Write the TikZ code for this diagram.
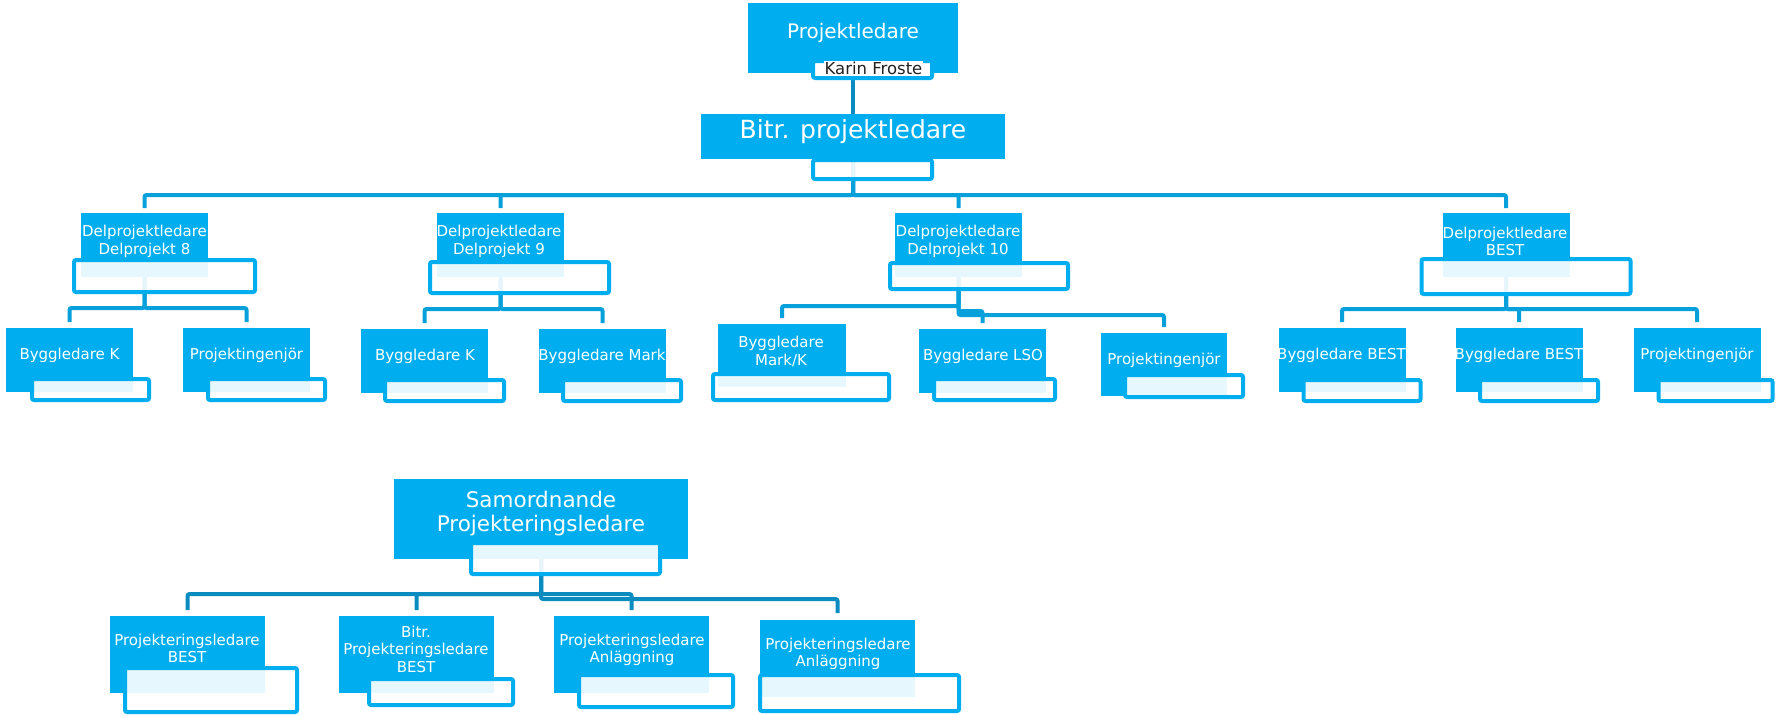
\documentclass[tikz,border=0pt]{standalone}
\usepackage{fontspec}
\setmainfont{DejaVu Sans}
\usetikzlibrary{backgrounds}
\definecolor{boxblue}{RGB}{0,174,239}
\definecolor{connA}{RGB}{8,160,218}
\definecolor{connB}{RGB}{10,140,192}
\definecolor{darktext}{RGB}{34,34,34}
\tikzset{
 bluebox/.style={fill=boxblue, inner sep=0, outer sep=0},
 namebox/.style={fill=white, fill opacity=0.9, draw=boxblue, draw opacity=1, line width=4pt, rounded corners=2pt, inner sep=0, outer sep=0},
 lbl/.style={inner sep=0, align=center, text=white, font=\fontsize{15}{17.5}\selectfont},
 conn/.style={draw=connA, line width=4pt, rounded corners=2pt},
}
\newcommand\posunit[9]{%
 \node[bluebox, minimum width=#3, minimum height=#4] (#1) at (#2) {};
 \node[lbl] (#1t) at (#5) {#6};
 \node[namebox, minimum width=#8-4, minimum height=#9-4] (#1n) at (#7) {};
}
\begin{document}
\begin{tikzpicture}[x=1pt,y=-1pt]
\useasboundingbox (0,0) rectangle (1785,715);
% top
\node[bluebox, minimum width=210, minimum height=70] (pl) at (853,38) {};
\node[lbl, font=\fontsize{20}{23}\selectfont] (plt) at (853,33) {Projektledare};
\node[namebox, fill opacity=1, minimum width=119, minimum height=17] (pln) at (872.5,69.5) {};
\node[inner sep=1pt, fill=white, text=darktext, font=\fontsize{16.5}{18}\selectfont] (plnt) at (873.5,68) {Karin Froste};
\node[bluebox, minimum width=304, minimum height=45] (bpl) at (853,136.5) {};
\node[lbl, font=\fontsize{25}{28}\selectfont] (bplt) at (853,132) {Bitr. projektledare};
\node[namebox, minimum width=119, minimum height=19] (bpln) at (872.5,169.5) {};
% delprojekt
\posunit{d8}{144.5,245}{127}{64}{144.5,241.5}{Delprojektledare\\Delprojekt 8}{164.5,276}{185}{36}
\posunit{d9}{500.5,245}{127}{64}{499,241.5}{Delprojektledare\\Delprojekt 9}{519.5,277.5}{183}{35}
\posunit{d10}{958.5,245}{127}{64}{958,241.5}{Delprojektledare\\Delprojekt 10}{979,276}{182}{30}
\posunit{dB}{1506,245}{127}{64}{1505,241.5}{Delprojektledare\\BEST}{1526,276.5}{213}{39}
% children
\posunit{c8a}{69.5,360}{127}{64}{69.5,355}{Byggledare K}{90.5,389.5}{121}{25}
\posunit{c8b}{246.5,360}{127}{64}{246.5,355}{Projektingenjör}{266.5,389.5}{121}{25}
\posunit{c9a}{424.5,361}{127}{64}{425,356}{Byggledare K}{444.5,390.5}{123}{25}
\posunit{c9b}{602.5,361}{127}{64}{602,356}{Byggledare Mark}{622,390.5}{122}{25}
\posunit{c10a}{782,355.5}{128}{63}{781,351.5}{Byggledare\\Mark/K}{801,387}{180}{30}
\posunit{c10b}{982.5,361}{127}{64}{983,356}{Byggledare LSO}{994.5,389.5}{125}{25}
\posunit{c10c}{1164,364.5}{126}{63}{1164,360}{Projektingenjör}{1184,386}{122}{26}
\posunit{cBa}{1342,360}{127}{64}{1341.5,355}{Byggledare BEST}{1362,390.5}{121}{25}
\posunit{cBb}{1519,360}{127}{64}{1519,355}{Byggledare BEST}{1539,390.5}{122}{25}
\posunit{cBc}{1697,360}{127}{64}{1697,355}{Projektingenjör}{1715.5,390.5}{118}{25}
% bottom
\node[bluebox, minimum width=294, minimum height=80] (sp) at (541,519) {};
\node[lbl, font=\fontsize{21.5}{23.5}\selectfont] (spt) at (541,513.5) {Samordnande\\Projekteringsledare};
\node[namebox, minimum width=189, minimum height=31] (spn) at (565.5,558.5) {};
\posunit{b1}{187.5,654.5}{155}{77}{187,648.5}{Projekteringsledare\\BEST}{211,690}{176}{48}
\posunit{b2}{416.5,654.5}{155}{77}{416,649}{Bitr.\\Projekteringsledare\\BEST}{441,692}{148}{30}
\posunit{b3}{631.5,654.5}{155}{77}{632,650}{Projekteringsledare\\Anläggning}{656,691}{158}{36}
\posunit{b4}{837.5,658.5}{155}{77}{838,654}{Projekteringsledare\\Anläggning}{859.5,693}{203}{40}
% connectors
\begin{scope}[on background layer]
\fill[white] (0,0) rectangle (1785,715);
\draw[conn, draw=connB] (pl.south) -- (bpl.north);
\foreach \c in {d8,d9,d10,dB}
  \draw[conn] (bpl.south) |- ([yshift=18pt]\c.north) -- ([yshift=5pt]\c.north);
\foreach \c in {c8a,c8b}
  \draw[conn] (d8.south) |- ([yshift=20pt]\c.north) -- ([yshift=6pt]\c.north);
\foreach \c in {c9a,c9b}
  \draw[conn] (d9.south) |- ([yshift=20pt]\c.north) -- ([yshift=6pt]\c.north);
\draw[conn] (d10.south) |- ([yshift=18pt]c10a.north) -- ([yshift=6pt]c10a.north);
\foreach \c in {c10b,c10c}
  \draw[conn] (d10.south) |- ([yshift=18pt]\c.north) -- ([yshift=6pt]\c.north);
\foreach \c in {cBa,cBb,cBc}
  \draw[conn] (dB.south) |- ([yshift=19pt]\c.north) -- ([yshift=6pt]\c.north);
\foreach \c in {b1,b2,b3}
  \draw[conn, draw=connB] (sp.south) |- ([yshift=22pt]\c.north) -- ([yshift=6pt]\c.north);
\draw[conn, draw=connB] (sp.south) |- ([yshift=21pt]b4.north) -- ([yshift=7pt]b4.north);
\end{scope}
\end{tikzpicture}
\end{document}
